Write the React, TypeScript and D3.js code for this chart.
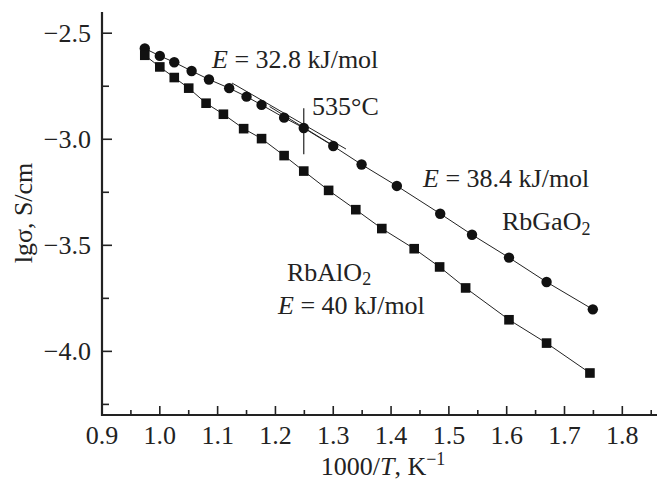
import React from "react";
import * as d3 from "d3";

const gaX = [0.974, 1.0, 1.025, 1.055, 1.085, 1.12, 1.15, 1.176, 1.215, 1.249, 1.3, 1.349, 1.41, 1.485, 1.54, 1.604, 1.669, 1.749];
const gaY = [-2.572, -2.607, -2.637, -2.678, -2.718, -2.759, -2.799, -2.838, -2.898, -2.947, -3.032, -3.119, -3.22, -3.351, -3.45, -3.558, -3.673, -3.802];
const alX = [0.974, 1.0, 1.025, 1.05, 1.08, 1.11, 1.145, 1.176, 1.215, 1.249, 1.292, 1.339, 1.384, 1.44, 1.484, 1.529, 1.604, 1.669, 1.744];
const alY = [-2.604, -2.659, -2.709, -2.759, -2.83, -2.882, -2.95, -2.997, -3.077, -3.15, -3.241, -3.332, -3.421, -3.516, -3.602, -3.701, -3.851, -3.961, -4.102];
const xMajor = [0.9, 1.0, 1.1, 1.2, 1.3, 1.4, 1.5, 1.6, 1.7, 1.8];
const xMinor = [0.95, 1.05, 1.15, 1.25, 1.35, 1.45, 1.55, 1.65, 1.75, 1.85];
const yMajor = [-2.5, -3.0, -3.5, -4.0];
const yMinor = [-2.75, -3.25, -3.75, -4.25];
const fitLow = { x: [1.125, 1.322], y: [-2.735, -3.046] };
const fitHigh = { x: [1.19, 1.3], y: [-2.846, -3.03] };
const transitionX = 1.249;
const transitionY = [-2.854, -3.071];

const FONT = "'Liberation Serif', 'Times New Roman', serif";

export default function App() {
  const x = d3.scaleLinear().domain([0.9, 1.86]).range([102, 657]);
  const y = d3.scaleLinear().domain([-2.4, -4.3]).range([12, 415]);
  const line = d3.line<[number, number]>().x((d) => x(d[0])).y((d) => y(d[1]));
  const ga: [number, number][] = gaX.map((v, i) => [v, gaY[i]]);
  const al: [number, number][] = alX.map((v, i) => [v, alY[i]]);
  const fs = 26;
  return (
    <div style={{ position: "absolute", left: 0, top: 0 }}>
      <svg width={660} height={483} style={{ display: "block", background: "#fff" }} fontFamily={FONT}>
        <rect width={660} height={483} fill="#fff" />
        {/* axes */}
        <line x1={x(0.9)} x2={x(0.9)} y1={y(-2.4)} y2={y(-4.3) + 1} stroke="#222" strokeWidth={2.2} />
        <line x1={x(0.9) - 1} x2={x(1.86)} y1={y(-4.3)} y2={y(-4.3)} stroke="#222" strokeWidth={2.2} />
        {xMajor.map((t) => (
          <g key={"xm" + t}>
            <line x1={x(t)} x2={x(t)} y1={y(-4.3)} y2={y(-4.3) - 9} stroke="#222" strokeWidth={1.6} />
            <text x={x(t)} y={444} textAnchor="middle" fontSize={fs} fill="#222">{t.toFixed(1)}</text>
          </g>
        ))}
        {xMinor.map((t) => (
          <line key={"xn" + t} x1={x(t)} x2={x(t)} y1={y(-4.3)} y2={y(-4.3) - 5} stroke="#222" strokeWidth={1.6} />
        ))}
        {yMajor.map((t) => (
          <g key={"ym" + t}>
            <line x1={x(0.9)} x2={x(0.9) + 10} y1={y(t)} y2={y(t)} stroke="#222" strokeWidth={1.6} />
            <text x={91} y={y(t) + 9} textAnchor="end" fontSize={fs} fill="#222">{"\u2212" + Math.abs(t).toFixed(1)}</text>
          </g>
        ))}
        {yMinor.map((t) => (
          <line key={"yn" + t} x1={x(0.9)} x2={x(0.9) + 7} y1={y(t)} y2={y(t)} stroke="#222" strokeWidth={1.6} />
        ))}
        {/* axis titles */}
        <text x={383} y={475} textAnchor="middle" fontSize={fs} fill="#222">
          1000/<tspan fontStyle="italic">T</tspan>, K<tspan fontSize={18} dy={-10}>{"\u22121"}</tspan>
        </text>
        <text transform={`translate(32,213) rotate(-90)`} textAnchor="middle" fontSize={fs} fill="#222">
          lgσ, S/cm
        </text>
        {/* fit lines */}
        <path d={line([[fitLow.x[0], fitLow.y[0]], [fitLow.x[1], fitLow.y[1]]]) || ""} stroke="#222" strokeWidth={1} fill="none" />
        <path d={line([[fitHigh.x[0], fitHigh.y[0]], [fitHigh.x[1], fitHigh.y[1]]]) || ""} stroke="#222" strokeWidth={1} fill="none" />
        <line x1={x(transitionX)} x2={x(transitionX)} y1={y(transitionY[0])} y2={y(transitionY[1])} stroke="#222" strokeWidth={1.2} />
        {/* data lines */}
        <path d={line(ga) || ""} stroke="#222" strokeWidth={1} fill="none" />
        <path d={line(al) || ""} stroke="#222" strokeWidth={1} fill="none" />
        {ga.map((d, i) => (
          <circle key={"c" + i} cx={x(d[0])} cy={y(d[1])} r={5.2} fill="#111" />
        ))}
        {al.map((d, i) => (
          <rect key={"s" + i} x={x(d[0]) - 4.8} y={y(d[1]) - 4.8} width={9.6} height={9.6} fill="#111" />
        ))}
        {/* annotations */}
        <text x={212} y={68} fontSize={fs} fill="#222">
          <tspan fontStyle="italic">E</tspan> = 32.8 kJ/mol
        </text>
        <text x={312} y={115} fontSize={fs} fill="#222">535°C</text>
        <text x={423} y={187} fontSize={fs} fill="#222">
          <tspan fontStyle="italic">E</tspan> = 38.4 kJ/mol
        </text>
        <text x={502} y={230} fontSize={fs} fill="#222">
          RbGaO<tspan fontSize={18} dy={5}>2</tspan>
        </text>
        <text x={287} y={281} fontSize={fs} fill="#222">
          RbAlO<tspan fontSize={18} dy={4}>2</tspan>
        </text>
        <text x={278} y={314} fontSize={fs} fill="#222">
          <tspan fontStyle="italic">E</tspan> = 40 kJ/mol
        </text>
      </svg>
    </div>
  );
}
